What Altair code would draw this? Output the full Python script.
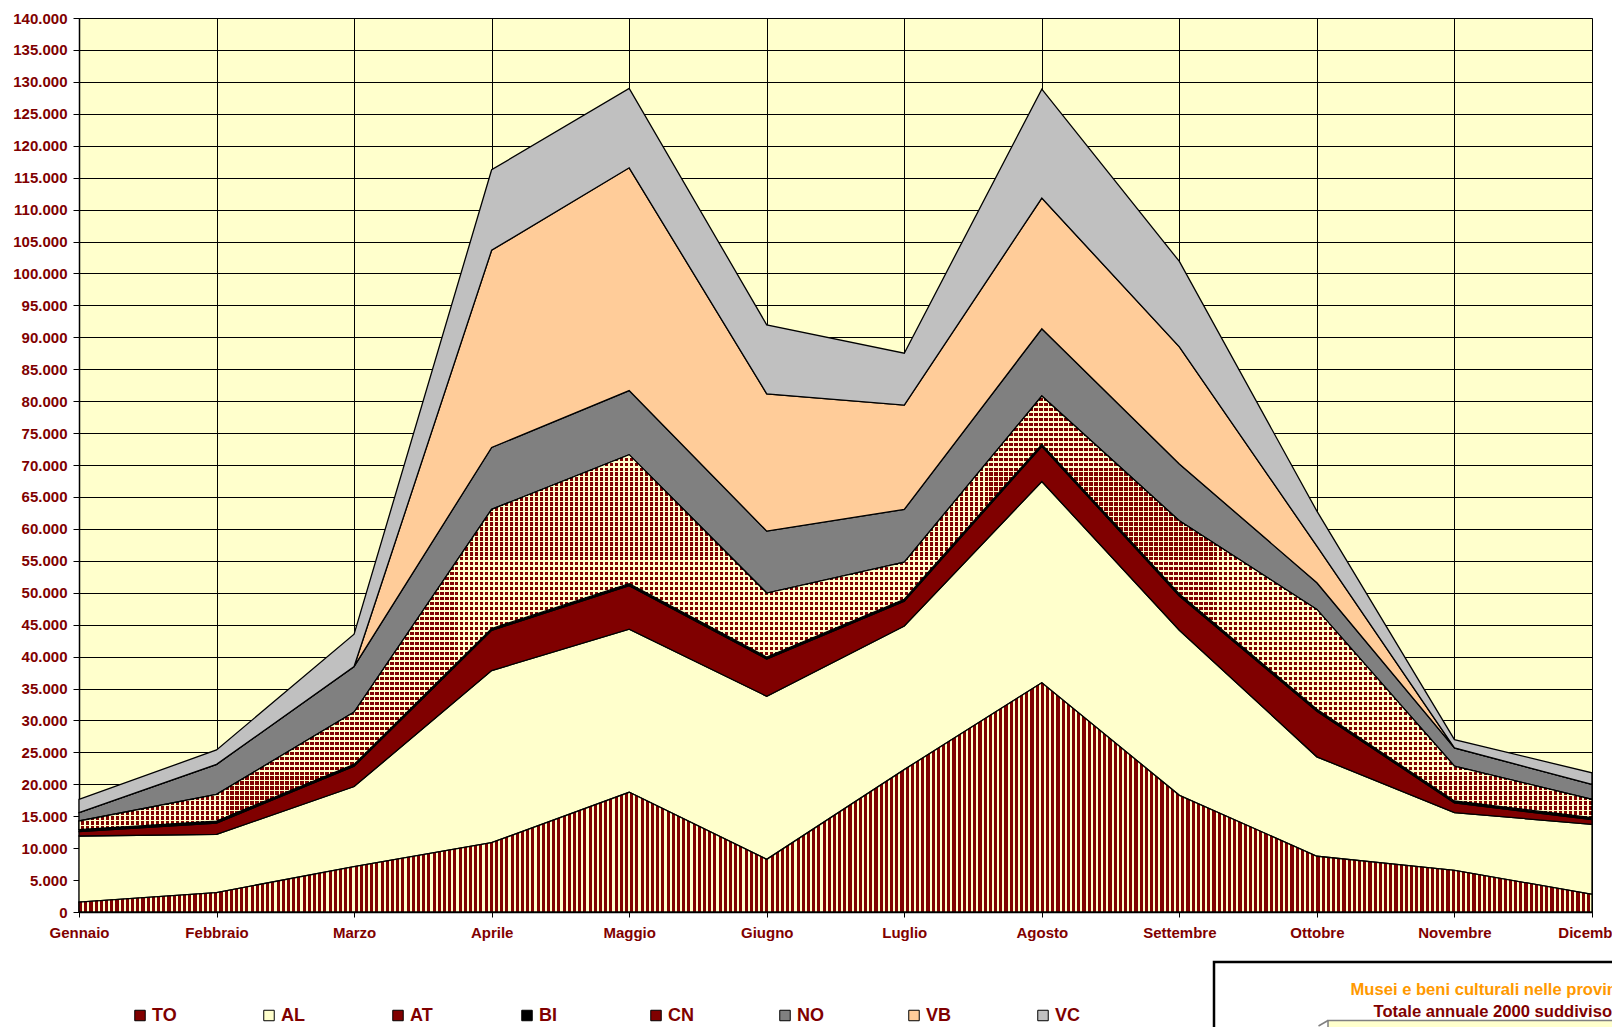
import altair as alt
import pandas as pd

# ---------------- data ----------------
months = ["Gennaio", "Febbraio", "Marzo", "Aprile", "Maggio", "Giugno",
          "Luglio", "Agosto", "Settembre", "Ottobre", "Novembre", "Dicembre"]
series = ["TO", "AL", "AT", "BI", "CN", "NO", "VB", "VC"]

TO = [1550, 3040, 7100, 10850, 18750, 8240, 22300, 35900, 18270, 8730, 6530, 2770]
AL = [10350, 9120, 12550, 26950, 25550, 25550, 22480, 31510, 25860, 15570, 9030, 10960]
AT = [700, 1780, 3170, 6300, 6810, 5840, 3900, 5520, 5360, 7150, 1520, 740]
BI = [300, 300, 300, 300, 300, 300, 300, 300, 300, 300, 300, 300]
CN = [1350, 4190, 8180, 18650, 20210, 10020, 5820, 7570, 11480, 15630, 5470, 2870]
NO = [1310, 4690, 7150, 9700, 10030, 9700, 8250, 10530, 8890, 4180, 2860, 2340]
VB = [0, 0, 0, 30880, 34890, 21500, 16320, 20470, 18340, 5730, 0, 0]
VC = [2080, 2260, 5050, 12600, 12420, 10800, 8130, 17060, 13380, 5480, 1290, 1810]

colors = ["#800000", "#FFFFCC", "#800000", "#000000", "#800000", "#808080", "#FFCC99", "#C0C0C0"]

y_ticks = list(range(0, 140001, 5000))

title_1 = "Musei e beni culturali nelle province piemontesi"
title_2 = "Totale annuale 2000 suddiviso per provincia"

# ---------------- table ----------------
vals = dict(TO=TO, AL=AL, AT=AT, BI=BI, CN=CN, NO=NO, VB=VB, VC=VC)
rows = []
for i, m in enumerate(months):
    base = 0
    for k, s in enumerate(series):
        v = vals[s][i]
        rows.append(dict(month=m, series=s, order=k, value=v, y0=base, y1=base + v))
        base += v
df = pd.DataFrame(rows)

# ---------------- style ----------------
W, H = 1513, 894
YMAX = 140000
DARK = "#800000"
YEL = "#FFFFCC"
CLEAR = "rgba(255,255,204,0)"
FONT = "Liberation Sans"


def stripes(n, frac, ca, cb, vertical=True):
    stops = []
    for k in range(n):
        a0 = round(k / n, 6)
        a1 = round((k + frac) / n, 6)
        a2 = round((k + 1) / n, 6)
        stops += [{"offset": a0, "color": ca}, {"offset": a1, "color": ca},
                  {"offset": a1, "color": cb}, {"offset": a2, "color": cb}]
    if vertical:
        return {"gradient": "linear", "x1": 0, "y1": 0, "x2": 1, "y2": 0, "stops": stops}
    return {"gradient": "linear", "x1": 0, "y1": 0, "x2": 0, "y2": 1, "stops": stops}


# TO: vertical dark-red / yellow stripes
to_fill = stripes(round(W / 5.2), 0.6, DARK, YEL, vertical=True)

# CN: dotted check (red base, yellow rows and columns on top)
cn = df[df.series == "CN"]
cn_h = (cn.y1.max() - cn.y0.min()) / YMAX * H
cn_rows = stripes(max(1, round(cn_h / 5.0)), 0.34, YEL, CLEAR, vertical=False)
cn_cols = stripes(round(W / 5.0), 0.34, YEL, CLEAR, vertical=True)

lab = dict(labelFont=FONT, labelFontWeight="bold", labelFontSize=15, labelColor=DARK)

x_enc = alt.X("month:N", sort=months, scale=alt.Scale(type="point", padding=0),
              axis=alt.Axis(title=None, labelAngle=0, tickSize=5, tickColor="black",
                            domainColor="black", domainWidth=1.5, grid=True,
                            gridColor="black", gridWidth=1, labelPadding=8, **lab))
y_enc = alt.Y("y1:Q", stack=None, scale=alt.Scale(domain=[0, YMAX], nice=False, zero=True),
              axis=alt.Axis(title=None, values=y_ticks, tickSize=6, tickColor="black",
                            domainColor="black", domainWidth=1.5, grid=True,
                            gridColor="black", gridWidth=1, labelPadding=6,
                            labelExpr="replace(format(datum.value, ','), ',', '.')", **lab))

base = alt.Chart(df)

areas = base.mark_area(stroke="black", strokeWidth=1.3, opacity=1, interpolate="linear").encode(
    x=x_enc, y=y_enc, y2="y0:Q",
    color=alt.Color("series:N", scale=alt.Scale(domain=series, range=colors),
                    legend=alt.Legend(title=None, orient="none", legendX=52, legendY=988.5,
                                      direction="horizontal", columns=8, gridAlign="all",
                                      symbolType="square", symbolSize=110,
                                      symbolStrokeColor="black", symbolStrokeWidth=1,
                                      symbolOpacity=1, labelFont=FONT, labelFontWeight="bold",
                                      labelFontSize=18, labelColor=DARK, labelOffset=3,
                                      columnPadding=81, padding=0)),
)

to_layer = base.transform_filter("datum.series == 'TO'").mark_area(
    fill=to_fill, stroke="black", strokeWidth=1.3).encode(x=x_enc, y=y_enc, y2="y0:Q")

cn_layer1 = base.transform_filter("datum.series == 'CN'").mark_area(
    fill=cn_rows, strokeWidth=0).encode(x=x_enc, y=y_enc, y2="y0:Q")
cn_layer2 = base.transform_filter("datum.series == 'CN'").mark_area(
    fill=cn_cols, stroke="black", strokeWidth=1.3).encode(x=x_enc, y=y_enc, y2="y0:Q")

one = pd.DataFrame({"z": [0]})
box = alt.Chart(one).mark_rect(fill="white", stroke="black", strokeWidth=2.5).encode(
    x=alt.value(1135), x2=alt.value(1700), y=alt.value(944), y2=alt.value(1200))
inner = alt.Chart(one).mark_rect(fill=YEL, stroke="#808080", strokeWidth=1.5).encode(
    x=alt.value(1249), x2=alt.value(1700), y=alt.value(1002.5), y2=alt.value(1200))
corner = alt.Chart(one).mark_rule(stroke="#808080", strokeWidth=1.5).encode(
    x=alt.value(1239.5), x2=alt.value(1249), y=alt.value(1008), y2=alt.value(1002.5))
t1 = alt.Chart(one).mark_text(text=title_1, align="left", baseline="middle", font=FONT,
                              fontWeight="bold", fontSize=16.6, color="#FF9900").encode(
    x=alt.value(1271.5), y=alt.value(972))
t2 = alt.Chart(one).mark_text(text=title_2, align="left", baseline="middle", font=FONT,
                              fontWeight="bold", fontSize=16.6, color=DARK).encode(
    x=alt.value(1294.5), y=alt.value(993.5))

chart = alt.layer(areas, to_layer, cn_layer1, cn_layer2, box, inner, corner, t1, t2).properties(
    width=W, height=H,
    autosize=alt.AutoSizeParams(type="none"),
    padding={"left": 71, "top": 10, "right": 20, "bottom": 115},
    background="white",
).configure_view(fill=YEL, stroke="#808080", strokeWidth=1)

chart.save("out.html", embed_options={"renderer": "svg", "actions": False})
